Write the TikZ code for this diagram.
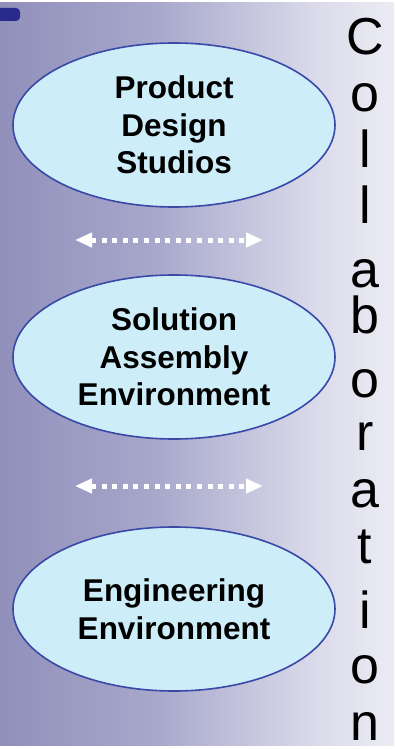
\documentclass[tikz,border=0pt]{standalone}
\usepackage{fontspec}
\setmainfont{Liberation Sans}
\usepackage{xcolor}
\usetikzlibrary{shapes.geometric,arrows.meta}

\definecolor{bgdark}{RGB}{140,140,184}
\definecolor{bgmid}{RGB}{168,168,204}
\definecolor{bglight}{RGB}{218,218,234}
\definecolor{bgpale}{RGB}{245,245,250}
\definecolor{ellfill}{RGB}{205,238,248}
\definecolor{ellborder}{RGB}{58,72,168}
\definecolor{tabblue}{RGB}{42,42,140}

\pgfdeclarehorizontalshading{collabshade}{100bp}{
	color(0bp)=(bgdark); color(22bp)=(bgdark); color(45bp)=(bgmid);
	color(65bp)=(bglight); color(80bp)=(bgpale); color(100bp)=(bgpale)
}

\tikzset{
	studio/.style={ellipse, draw=ellborder, line width=1.6pt, fill=ellfill,
		minimum width=322pt, minimum height=164pt, inner sep=0pt,
		align=center, font=\fontsize{31.5}{37.5}\selectfont\bfseries},
	link/.style={white, line width=5pt, dash pattern=on 5pt off 5.6pt,
		{Triangle[length=17pt,width=14pt]}-{Triangle[length=17pt,width=14pt]}},
	letter/.style={anchor=base, inner sep=0pt, font=\fontsize{52}{52}\selectfont}
}

\begin{document}
\begin{tikzpicture}[x=1pt,y=-1pt]
			\useasboundingbox (0,0) rectangle (394,749);
			\fill[white] (0,0) rectangle (394,749);
			\shade[shading=collabshade] (0,3) rectangle (394,745);
			\fill[tabblue, rounded corners=4pt] (-5,8) rectangle (20,21);
			%
			\node[studio] (PDS) at (174,125) {Product\\Design\\Studios};
			\node[studio] (SAE) at (174,357) {Solution\\Assembly\\Environment};
			\node[studio] (EE) at (174,609) {Engineering\\Environment};
			%
			\coordinate (PL) at (75,240);
			\coordinate (PR) at (263,240);
			\coordinate (SL) at (75,486);
			\coordinate (SR) at (263,486);
			\draw[link] (PL) -- (PR);
			\draw[link] (SL) -- (SR);
			%
			\foreach \ch/\base [count=\i] in {C/55,o/112,l/167,l/223,a/287,b/333,o/397,
					r/450,a/507,t/563,i/628,o/683,n/740}
				\node[letter] (collab\i) at (365,\base) {\ch};
		\end{tikzpicture}
\end{document}
